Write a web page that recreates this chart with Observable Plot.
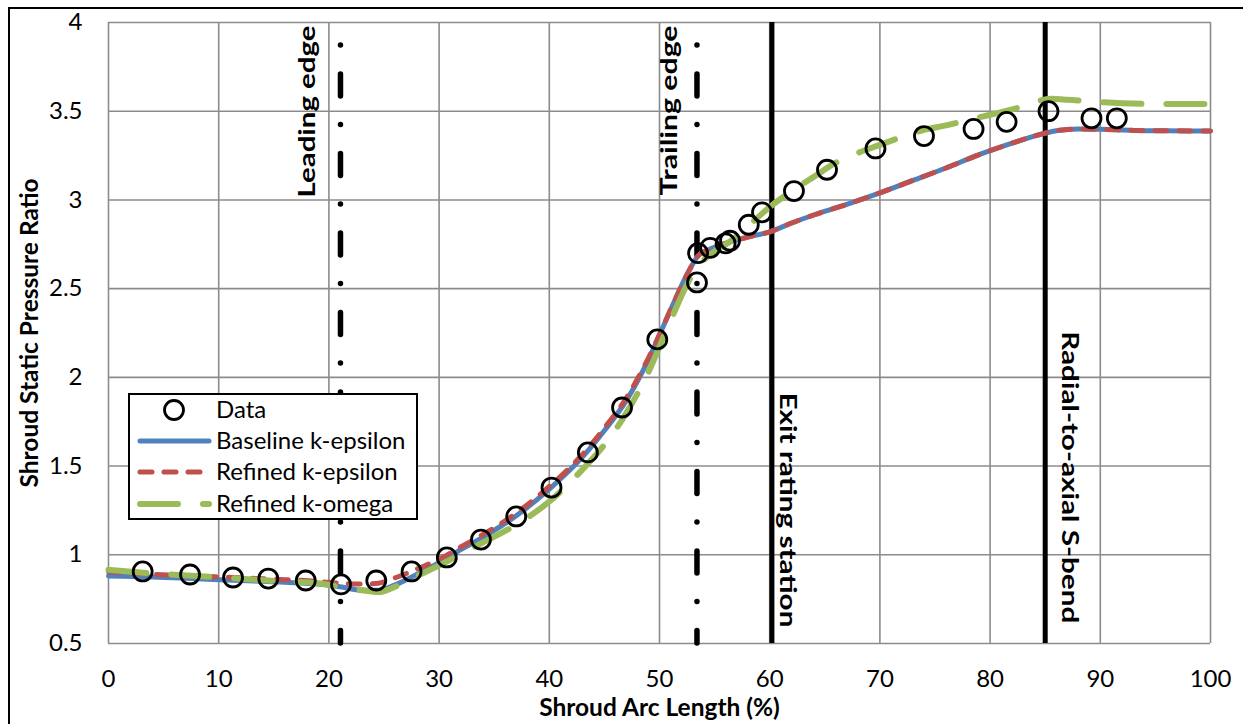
<!DOCTYPE html>
<html>
<head>
<meta charset="utf-8">
<script src="https://cdn.jsdelivr.net/npm/d3@7"></script>
<script src="https://cdn.jsdelivr.net/npm/@observablehq/plot@0.6"></script>
<style>
  html, body { margin: 0; padding: 0; background: #fff; }
  #wrap { position: relative; width: 1243px; height: 724px; overflow: hidden; }
  #border { position: absolute; left: 8px; top: 7px; right: -5px; bottom: -5px; border-left: 2px solid #000; border-top: 2px solid #000; pointer-events: none; }
  #legend { position: absolute; left: 128px; top: 393px; width: 286px; height: 123px; border: 2px solid #000; background: #fff; }
  #legend svg { position: absolute; left: 0; top: 0; }
</style>
</head>
<body>
<div id="wrap"><div id="chart"></div><div id="legend"></div><div id="border"></div></div>
<script>
// ---- data ----
const xTicks = [0, 10, 20, 30, 40, 50, 60, 70, 80, 90, 100];
const yTicks = [0.5, 1, 1.5, 2, 2.5, 3, 3.5, 4];

const dataX = [3.1, 7.4, 11.3, 14.5, 17.9, 21.1, 24.3, 27.5, 30.7, 33.8, 37.0, 40.2, 43.5, 46.6, 49.8, 53.4, 53.5, 54.6, 56.0, 56.4, 58.1, 59.3, 62.2, 65.2, 69.6, 74.0, 78.5, 81.5, 85.3, 89.2, 91.5];
const dataY = [0.906, 0.889, 0.872, 0.866, 0.855, 0.833, 0.855, 0.906, 0.985, 1.086, 1.216, 1.379, 1.577, 1.830, 2.214, 2.535, 2.70, 2.73, 2.755, 2.77, 2.86, 2.93, 3.05, 3.17, 3.29, 3.36, 3.40, 3.44, 3.50, 3.46, 3.46];

const baseX = [0, 4, 8, 12, 16, 19, 21, 23, 24.5, 26, 28, 30, 32, 34, 37, 40, 43, 45, 47, 49, 51, 52.5, 53.5, 54.5, 56, 58, 60, 62, 64, 67, 70, 73, 76, 79, 82, 84, 86, 88, 90, 93, 96, 100];
const baseY = [0.88, 0.875, 0.865, 0.855, 0.845, 0.835, 0.82, 0.80, 0.80, 0.83, 0.89, 0.955, 1.03, 1.10, 1.22, 1.37, 1.55, 1.70, 1.87, 2.10, 2.38, 2.58, 2.685, 2.72, 2.755, 2.79, 2.82, 2.87, 2.915, 2.975, 3.04, 3.11, 3.18, 3.255, 3.32, 3.36, 3.39, 3.40, 3.398, 3.392, 3.39, 3.388];

const refEpsX = [0, 4, 8, 12, 16, 19, 21, 23, 24.5, 26, 28, 30, 32, 34, 37, 40, 43, 45, 47, 49, 51, 52.5, 53.5, 54.5, 56, 58, 60, 62, 64, 67, 70, 73, 76, 79, 82, 84, 86, 88, 90, 93, 96, 100];
const refEpsY = [0.905, 0.89, 0.88, 0.87, 0.86, 0.85, 0.84, 0.835, 0.84, 0.87, 0.92, 0.975, 1.045, 1.115, 1.235, 1.385, 1.565, 1.715, 1.885, 2.11, 2.38, 2.58, 2.685, 2.72, 2.755, 2.79, 2.82, 2.87, 2.915, 2.975, 3.04, 3.11, 3.18, 3.255, 3.32, 3.36, 3.39, 3.40, 3.398, 3.392, 3.39, 3.388];

const refOmX = [0, 4, 8, 12, 16, 19, 21, 23, 24.5, 26, 28, 30, 32, 34, 37, 40, 43, 45, 47, 49, 51, 53, 54, 55, 56.5, 58, 60, 62, 64, 66, 68, 70, 72, 74, 76, 78, 80, 82, 84, 85.5, 87, 89, 92, 96, 100];
const refOmY = [0.915, 0.895, 0.88, 0.865, 0.85, 0.84, 0.82, 0.80, 0.79, 0.82, 0.88, 0.94, 1.005, 1.07, 1.17, 1.30, 1.48, 1.62, 1.80, 2.03, 2.32, 2.58, 2.66, 2.71, 2.77, 2.85, 2.96, 3.05, 3.13, 3.21, 3.265, 3.31, 3.355, 3.395, 3.42, 3.45, 3.48, 3.51, 3.55, 3.57, 3.565, 3.555, 3.545, 3.54, 3.54];

const seriesNames = ["Data", "Baseline k-epsilon", "Refined k-epsilon", "Refined k-omega"];
const seriesColors = ["#000000", "#4F81BD", "#C0504D", "#9BBB59"];

const markerNames = ["Leading edge", "Trailing edge", "Exit rating station", "Radial-to-axial S-bend"];
const markerX = [21.05, 53.4, 60.2, 85.0];

const xLabel = "Shroud Arc Length (%)";
const yLabel = "Shroud Static Pressure Ratio";

// ---- build tables ----
const zip = (xs, ys) => xs.map((x, i) => ({x, y: ys[i]}));
const dataPts = zip(dataX, dataY);
const base = zip(baseX, baseY);
const refEps = zip(refEpsX, refEpsY);
const refOm = zip(refOmX, refOmY);
const dashDot = markerX.slice(0, 2).map(x => ({x}));
const solid = markerX.slice(2).map(x => ({x}));

const FONT = "Lato, sans-serif";
const ANNOT = "Lato, sans-serif";
const annotLen = {"Leading edge": 172, "Trailing edge": 170, "Exit rating station": 235, "Radial-to-axial S-bend": 292};

const annotStyle = {lineAnchor: "middle", fontFamily: ANNOT, fontSize: 23, fontWeight: "bold", fill: "#000"};

const chart = Plot.plot({
  width: 1243,
  height: 724,
  marginLeft: 108,
  marginRight: 33,
  marginTop: 22,
  marginBottom: 81,
  style: {fontFamily: FONT, fontSize: "24px", color: "#000", background: "transparent", overflow: "visible"},
  x: {domain: [0, 100]},
  y: {domain: [0.5, 4]},
  marks: [
    Plot.gridX(xTicks, {stroke: "#8c8c8c", strokeOpacity: 1, strokeWidth: 1.6}),
    Plot.gridY(yTicks, {stroke: "#8c8c8c", strokeOpacity: 1, strokeWidth: 1.6}),
    Plot.ruleX(dashDot, {x: "x", y1: 4, y2: 0.5, stroke: "#000", strokeWidth: 5.5, strokeLinecap: "round", strokeDasharray: "0,29,22,28.5", strokeDashoffset: 56.5}),
    Plot.ruleX(solid, {x: "x", y1: 4, y2: 0.5, stroke: "#000", strokeWidth: 5}),
    Plot.line(base, {x: "x", y: "y", stroke: seriesColors[1], strokeWidth: 5, curve: "monotone-x"}),
    Plot.line(refEps, {x: "x", y: "y", stroke: seriesColors[2], strokeWidth: 5, strokeLinecap: "round", strokeDasharray: "12,12", curve: "monotone-x"}),
    Plot.line(refOm, {x: "x", y: "y", stroke: seriesColors[3], strokeWidth: 6, strokeLinecap: "round", strokeDasharray: "38,25", curve: "monotone-x"}),
    Plot.dot(dataPts, {x: "x", y: "y", r: 9.5, stroke: "#000", strokeWidth: 2.8, fill: "none"}),
    Plot.text([markerNames[0]], {x: 18.1, y: 4, dy: 3, rotate: -90, textAnchor: "end", ...annotStyle}),
    Plot.text([markerNames[1]], {x: 50.9, y: 4, dy: 3, rotate: -90, textAnchor: "end", ...annotStyle}),
    Plot.text([markerNames[2]], {x: 61.6, y: 1.915, rotate: 90, textAnchor: "start", ...annotStyle}),
    Plot.text([markerNames[3]], {x: 87.2, y: 2.26, rotate: 90, textAnchor: "start", ...annotStyle}),
    Plot.axisX(xTicks, {tickSize: 0, tickPadding: 26, label: null, fontSize: 24, tickFormat: d => String(d)}),
    Plot.axisY(yTicks, {tickSize: 0, tickPadding: 26, label: null, fontSize: 24, tickFormat: d => String(d)}),
    Plot.text([xLabel], {frameAnchor: "bottom", dy: 65, fontWeight: "bold", fontSize: 24.5, textAnchor: "middle", lineAnchor: "middle", fill: "#000"}),
    Plot.text([yLabel], {frameAnchor: "left", dx: -78, rotate: -90, fontWeight: "bold", fontSize: 24.5, textAnchor: "middle", lineAnchor: "middle", fill: "#000"})
  ]
});
// stretch the rotated annotation labels to the reference lengths
chart.querySelectorAll("text").forEach(t => {
  const L = annotLen[t.textContent];
  if (L) { t.setAttribute("textLength", L); t.setAttribute("lengthAdjust", "spacingAndGlyphs"); }
});
document.getElementById("chart").appendChild(chart);

// ---- legend (HTML overlay) ----
const legend = document.getElementById("legend");
const ns = "http://www.w3.org/2000/svg";
const lsvg = document.createElementNS(ns, "svg");
lsvg.setAttribute("width", 286);
lsvg.setAttribute("height", 123);
const rowY = [15, 46, 77, 109];
const styles = [
  null,
  {w: 5, dash: null},
  {w: 5, dash: "12,12"},
  {w: 6, dash: "38,25"}
];
seriesNames.forEach((name, i) => {
  if (i === 0) {
    const c = document.createElementNS(ns, "circle");
    c.setAttribute("cx", 44); c.setAttribute("cy", rowY[i]); c.setAttribute("r", 9.5);
    c.setAttribute("fill", "none"); c.setAttribute("stroke", "#000"); c.setAttribute("stroke-width", 2.8);
    lsvg.appendChild(c);
  } else {
    const l = document.createElementNS(ns, "line");
    l.setAttribute("x1", 10); l.setAttribute("x2", 79);
    l.setAttribute("y1", rowY[i]); l.setAttribute("y2", rowY[i]);
    l.setAttribute("stroke", seriesColors[i]); l.setAttribute("stroke-width", styles[i].w);
    l.setAttribute("stroke-linecap", "round");
    if (styles[i].dash) l.setAttribute("stroke-dasharray", styles[i].dash);
    lsvg.appendChild(l);
  }
  const t = document.createElementNS(ns, "text");
  t.setAttribute("x", 86); t.setAttribute("y", rowY[i]);
  t.setAttribute("dy", "0.35em");
  t.setAttribute("font-family", FONT); t.setAttribute("font-size", 24);
  t.textContent = name;
  lsvg.appendChild(t);
});
legend.appendChild(lsvg);
</script>
</body>
</html>
